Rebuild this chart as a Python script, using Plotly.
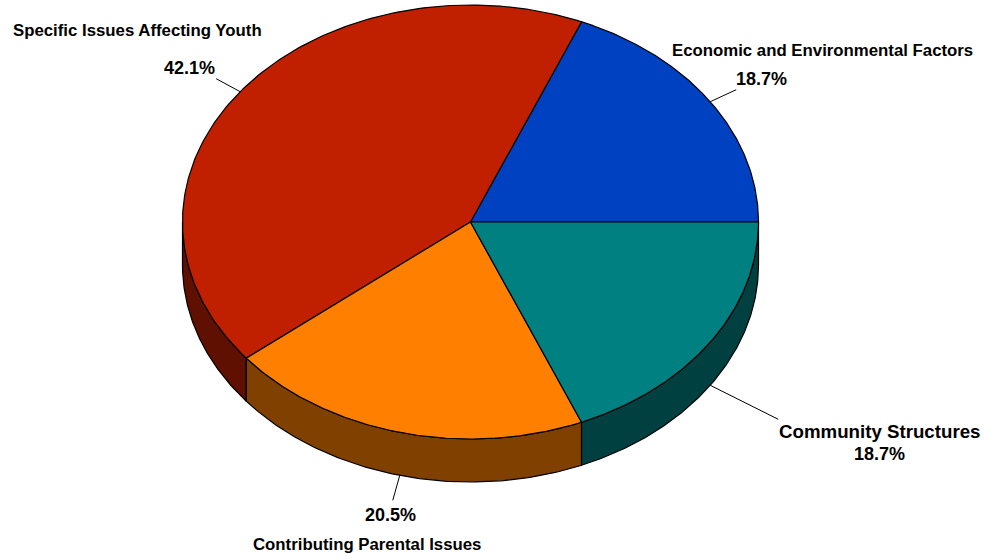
import numpy as np
import plotly.graph_objects as go

# Shares of issues, in drawing order (counter-clockwise from 3 o'clock)
categories = [
    "Economic and Environmental Factors",
    "Specific Issues Affecting Youth",
    "Contributing Parental Issues",
    "Community Structures",
]
shares = [18.7, 42.1, 20.5, 18.7]
pct_labels = ["18.7%", "42.1%", "20.5%", "18.7%"]

top_colors = ["#0041C2", "#C02000", "#FF8000", "#008080"]
side_colors = ["#002060", "#601000", "#804000", "#004040"]

# Pie geometry in pixel space
CX, CY = 470.5, 222.0
RX, RY = 288.0, 217.0
DEPTH = 43.0


def ell(t_deg, dy=0.0):
    t = np.radians(t_deg)
    return CX + RX * np.cos(t), CY - RY * np.sin(t) + dy


fracs = np.array(shares) / sum(shares)
bounds = np.concatenate([[0.0], np.cumsum(fracs) * 360.0])

fig = go.Figure()

# Outer wall (front half only)
for i in range(len(shares)):
    a0, a1 = max(bounds[i], 180.0), min(bounds[i + 1], 360.0)
    if a1 <= a0:
        continue
    ts = np.linspace(a0, a1, 120)
    xt, yt = ell(ts)
    xb, yb = ell(ts[::-1], DEPTH)
    fig.add_trace(go.Scatter(
        x=np.concatenate([xt, xb, xt[:1]]),
        y=np.concatenate([yt, yb, yt[:1]]),
        mode="lines", fill="toself", fillcolor=side_colors[i],
        line=dict(color="black", width=1.2), hoverinfo="skip", showlegend=False,
    ))

# Top faces
for i in range(len(shares)):
    ts = np.linspace(bounds[i], bounds[i + 1], 200)
    xa, ya = ell(ts)
    fig.add_trace(go.Scatter(
        x=np.concatenate([[CX], xa, [CX]]),
        y=np.concatenate([[CY], ya, [CY]]),
        mode="lines", fill="toself", fillcolor=top_colors[i],
        line=dict(color="black", width=1.2), hoverinfo="skip", showlegend=False,
    ))

# Label placement: leader offset, percent position, name position, name size
label_layout = [
    dict(off=(26, -12), pct=(761.5, 79), name=(822, 50), size=16.8),
    dict(off=(-24, -13), pct=(189, 68), name=(137, 30), size=16.8),
    dict(off=(-7, 25), pct=(390.5, 515), name=(367, 544), size=16.8),
    dict(off=(68, 34), pct=(879.5, 453.5), name=(879.5, 431.5), size=18.7),
]

FAMILY = "Liberation Sans, Arial, sans-serif"
font_pct = dict(family=FAMILY, size=18, color="black", weight="bold")

for i, lay in enumerate(label_layout):
    mid = (bounds[i] + bounds[i + 1]) / 2.0
    front = np.sin(np.radians(mid)) < 0
    x0, y0 = ell(mid, DEPTH if front else 0.0)
    x1, y1 = x0 + lay["off"][0], y0 + lay["off"][1]
    fig.add_trace(go.Scatter(
        x=[x0, x1], y=[y0, y1], mode="lines",
        line=dict(color="black", width=1), hoverinfo="skip", showlegend=False,
    ))
    fig.add_annotation(x=lay["pct"][0], y=lay["pct"][1], text=pct_labels[i],
                       showarrow=False, xanchor="center", yanchor="middle", font=font_pct)
    fig.add_annotation(x=lay["name"][0], y=lay["name"][1], text=categories[i],
                       showarrow=False, xanchor="center", yanchor="middle",
                       font=dict(family=FAMILY, size=lay["size"], color="black", weight="bold"))

fig.update_layout(
    width=984, height=559,
    margin=dict(l=0, r=0, t=0, b=0),
    paper_bgcolor="white", plot_bgcolor="white",
    xaxis=dict(range=[0, 984], visible=False, fixedrange=True),
    yaxis=dict(range=[559, 0], visible=False, fixedrange=True),
)

fig.write_html("out.html")
